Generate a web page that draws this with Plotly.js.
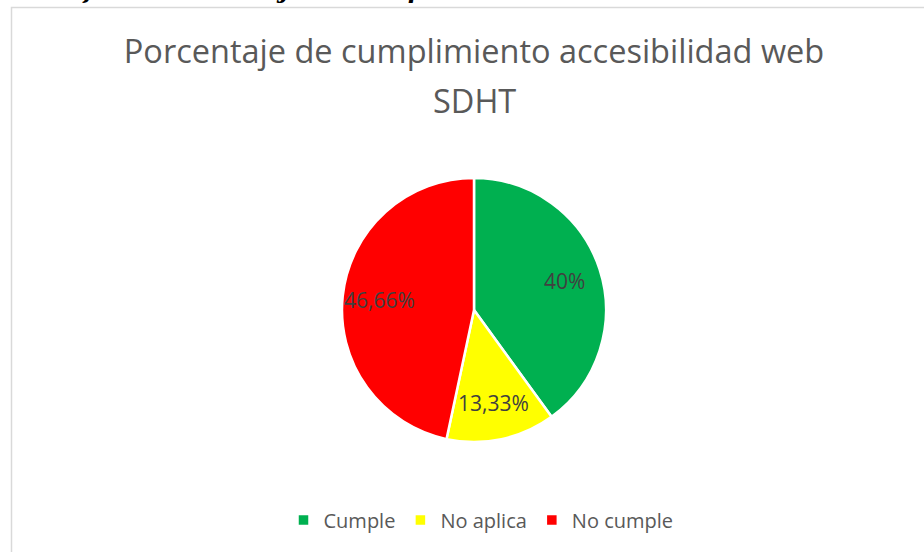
<!DOCTYPE html>
<html><head><meta charset="utf-8">
<script src="https://cdn.plot.ly/plotly-3.0.1.min.js"></script>
<style>html,body{margin:0;padding:0;background:#fff;}#chart{width:924px;height:552px;}</style>
</head><body><div id="chart"></div>
<script>
const categories = ["Cumple", "No aplica", "No cumple"];
const values = [40, 13.33, 46.66];
const valueLabels = ["40%", "13,33%", "46,66%"];
const colors = ["#00B050", "#FFFF00", "#FF0000"];
const titleLine1 = "Porcentaje de cumplimiento accesibilidad web";
const titleLine2 = "SDHT";
const caption = "Gráfica 2 Porcentaje de cumplimiento accesibilidad web SDHT";

const W = 924, H = 552;
const FONT = "'Open Sans', Lato, sans-serif";
const pieDomX = [342/W, 606/W];
const pieDomY = [(H-442)/H, (H-178)/H];

// label positions derived from slice mid-angles (clockwise from 12 o'clock)
const total = values.reduce((a, b) => a + b, 0);
const cx = (pieDomX[0] + pieDomX[1]) / 2 * W;
const cy = H - (pieDomY[0] + pieDomY[1]) / 2 * H;
const R = (pieDomX[1] - pieDomX[0]) * W / 2;
const labelFrac = 0.72;
let cum = 0;
const labelAnns = values.map((v, i) => {
  const mid = (cum + v / 2) / total * 2 * Math.PI;
  cum += v;
  const px = cx + Math.sin(mid) * R * labelFrac;
  const py = cy - Math.cos(mid) * R * labelFrac;
  return {text: valueLabels[i], xref: "paper", yref: "paper", x: px / W, y: 1 - py / H,
    xanchor: "center", yanchor: "middle", showarrow: false,
    font: {family: FONT, size: 21, color: "#404040"}};
});

const trace = {
  type: "pie",
  labels: categories,
  values: values,
  textinfo: "none",
  sort: false,
  direction: "clockwise",
  rotation: 0,
  marker: {colors: colors, line: {color: "#ffffff", width: 2.5}},
  hoverinfo: "none",
  domain: {x: pieDomX, y: pieDomY}
};
const layout = {
  width: W, height: H,
  margin: {l: 0, r: 0, t: 0, b: 0},
  paper_bgcolor: "#ffffff",
  showlegend: true,
  title: {text: titleLine1, x: 474/W, xanchor: "center", y: (H-52)/H, yanchor: "middle",
    font: {family: FONT, size: 32.5, color: "#595959"}},
  legend: {orientation: "h", x: 481/W, xanchor: "center", y: (H-520)/H, yanchor: "middle",
    font: {family: FONT, size: 20, color: "#595959"}, traceorder: "normal"},
  shapes: [{type: "rect", xref: "paper", yref: "paper",
    x0: 11.5/W, x1: 1.05, y0: -0.05, y1: (H-7.5)/H,
    line: {color: "#d9d9d9", width: 1.5}, fillcolor: "rgba(0,0,0,0)"}],
  annotations: [
    {text: titleLine2, xref: "paper", yref: "paper", x: 474/W, xanchor: "center",
      y: (H-100)/H, yanchor: "middle", showarrow: false,
      font: {family: FONT, size: 32.5, color: "#595959"}},
    {text: "<b><i>" + caption + "</i></b>", xref: "paper", yref: "paper",
      x: 449/W, xanchor: "center", y: 1, yanchor: "bottom", yshift: -6, showarrow: false,
      font: {family: "'DejaVu Serif', serif", size: 23.5, color: "#000000"}}
  ].concat(labelAnns)
};
Plotly.newPlot("chart", [trace], layout, {displayModeBar: false, staticPlot: true});
</script></body></html>
